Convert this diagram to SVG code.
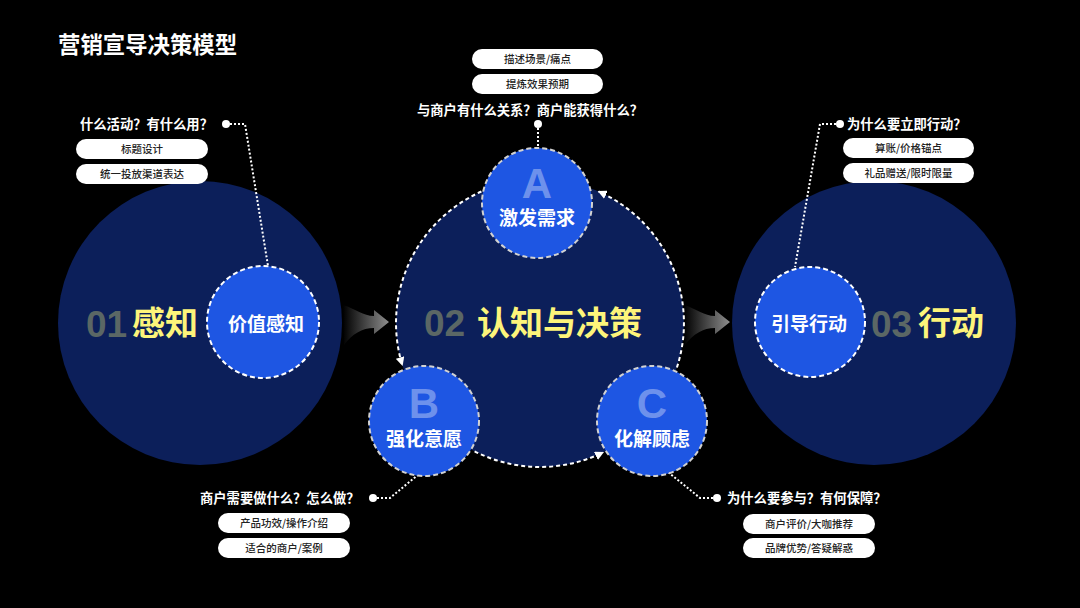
<svg xmlns="http://www.w3.org/2000/svg" width="1080" height="608" viewBox="0 0 1080 608">
<defs>
<style>
.big{fill:#0c1f5a}
.small{fill:#1e56e3}
.sd{stroke:#fff;stroke-width:2;stroke-dasharray:5 3}
.sdg{stroke:#d2d2d2;stroke-width:2;stroke-dasharray:5 3}
.arc{fill:none;stroke:#fff;stroke-width:2;stroke-dasharray:4 3;marker-end:url(#ah)}
.pill{fill:#fff}
.pt{font-family:"Noto Sans CJK SC","Noto Sans",sans-serif;font-size:10.5px;font-weight:500;fill:#222;text-anchor:middle}
.q{font-family:"Noto Sans CJK SC","Noto Sans",sans-serif;font-size:13.3px;font-weight:700;fill:#fff}
.lead{fill:none;stroke:#fff;stroke-width:2;stroke-dasharray:2 2}
.num{font-family:"Liberation Sans",Arial,sans-serif;font-weight:700;font-size:37px;fill:#5b6765}
.yl{font-family:"Noto Sans CJK SC",sans-serif;font-weight:700;font-size:33px;fill:#fdf47a}
.lbl{font-family:"Noto Sans CJK SC",sans-serif;font-weight:700;font-size:19px;fill:#fff;text-anchor:middle}
.let{font-family:"Liberation Sans",Arial,sans-serif;font-weight:700;font-size:42px;fill:#6d91ec;text-anchor:middle}
</style>
<marker id="ah" markerWidth="9" markerHeight="9" refX="8" refY="4.5" orient="auto" markerUnits="userSpaceOnUse"><path d="M0,0 L9,4.5 L0,9 z" fill="#fff"/></marker>
<linearGradient id="ag" x1="0" y1="0" x2="1" y2="0"><stop offset="0" stop-color="#000"/><stop offset="1" stop-color="#8e8e8e"/></linearGradient>
</defs>
<rect width="1080" height="608" fill="#000"/>
<text x="58" y="53" font-family="Noto Sans CJK SC, sans-serif" font-weight="700" font-size="22.4" fill="#fff">营销宣导决策模型</text>

<g id="stage1">
<circle class="big" cx="200" cy="323" r="142"/>
<text class="num" x="86" y="337">01</text>
<text class="yl" x="132" y="335">感知</text>
</g>
<g id="stage2">
<circle class="big" cx="540" cy="323" r="144"/>
<text class="num" x="424" y="336">02</text>
<text class="yl" x="477" y="335">认知与决策</text>
</g>
<g id="stage3">
<circle class="big" cx="874" cy="323" r="142"/>
<text class="num" x="871" y="337">03</text>
<text class="yl" x="918" y="335">行动</text>
</g>

<g id="connectors">
<path id="arrow1" d="M343,305 C356,309 363,316 374,316 L374,310 L389,322 L374,334 L374,328 C362,328 352,334 344,345 Z" fill="url(#ag)"/>
<path id="arrow2" transform="translate(341,0)" d="M343,305 C356,309 363,316 374,316 L374,310 L389,322 L374,334 L374,328 C362,328 352,334 344,345 Z" fill="url(#ag)"/>
<path class="arc" d="M676.9,367.5 A144,144 0 0 0 598.6,191.5"/>
<path class="arc" d="M481.4,191.5 A144,144 0 0 0 402.3,365.1"/>
<path class="arc" d="M474.6,451.3 A144,144 0 0 0 603.1,452.4"/>
<path class="lead" d="M230,124 L245,124 L268,266"/>
<path class="lead" d="M538,128 L538,148"/>
<path class="lead" d="M836,124 L820,124 L795,267"/>
<path class="lead" d="M377,498 L390,498 L419,474"/>
<path class="lead" d="M713,498 L700,498 L668,472"/>
<circle cx="226" cy="124" r="4" fill="#fff"/>
<circle cx="538" cy="124" r="4" fill="#fff"/>
<circle cx="840" cy="124" r="4" fill="#fff"/>
<circle cx="373" cy="498" r="4" fill="#fff"/>
<circle cx="717" cy="498" r="4" fill="#fff"/>
</g>

<g id="perceive">
<circle class="small sd" cx="263" cy="322" r="56"/>
<text class="lbl" x="266" y="331">价值感知</text>
</g>
<g id="nodeA">
<circle class="small sdg" cx="537" cy="203" r="55"/>
<text class="let" x="537" y="198">A</text>
<text class="lbl" x="537" y="225">激发需求</text>
</g>
<g id="nodeB">
<circle class="small sdg" cx="424" cy="421" r="55"/>
<text class="let" x="424" y="418">B</text>
<text class="lbl" x="424" y="446">强化意愿</text>
</g>
<g id="nodeC">
<circle class="small sdg" cx="652" cy="421" r="55"/>
<text class="let" x="652" y="418">C</text>
<text class="lbl" x="652" y="446">化解顾虑</text>
</g>
<g id="guide">
<circle class="small sd" cx="810" cy="322" r="55"/>
<text class="lbl" x="809" y="331">引导行动</text>
</g>

<g id="note1">
<text class="q" x="80" y="129">什么活动？有什么用？</text>
<rect class="pill" x="76" y="139" width="132" height="20" rx="10"/>
<text class="pt" x="142" y="152.8">标题设计</text>
<rect class="pill" x="76" y="164" width="132" height="20" rx="10"/>
<text class="pt" x="142" y="177.8">统一投放渠道表达</text>
</g>
<g id="noteA">
<rect class="pill" x="472" y="49" width="131" height="20" rx="10"/>
<text class="pt" x="537.5" y="62.8">描述场景/痛点</text>
<rect class="pill" x="472" y="74" width="131" height="20" rx="10"/>
<text class="pt" x="537.5" y="87.8">提炼效果预期</text>
<text class="q" x="417" y="115">与商户有什么关系？商户能获得什么？</text>
</g>
<g id="note3">
<text class="q" x="847" y="129">为什么要立即行动？</text>
<rect class="pill" x="843" y="138" width="131" height="20" rx="10"/>
<text class="pt" x="908.5" y="151.8">算账/价格锚点</text>
<rect class="pill" x="843" y="163" width="131" height="20" rx="10"/>
<text class="pt" x="908.5" y="176.8">礼品赠送/限时限量</text>
</g>
<g id="noteB">
<text class="q" x="200" y="503">商户需要做什么？怎么做？</text>
<rect class="pill" x="218" y="513" width="132" height="20" rx="10"/>
<text class="pt" x="284" y="526.8">产品功效/操作介绍</text>
<rect class="pill" x="218" y="538" width="132" height="20" rx="10"/>
<text class="pt" x="284" y="551.8">适合的商户/案例</text>
</g>
<g id="noteC">
<text class="q" x="727" y="503">为什么要参与？有何保障？</text>
<rect class="pill" x="743" y="514" width="132" height="20" rx="10"/>
<text class="pt" x="809" y="527.8">商户评价/大咖推荐</text>
<rect class="pill" x="743" y="538" width="132" height="20" rx="10"/>
<text class="pt" x="809" y="551.8">品牌优势/答疑解惑</text>
</g>
</svg>
